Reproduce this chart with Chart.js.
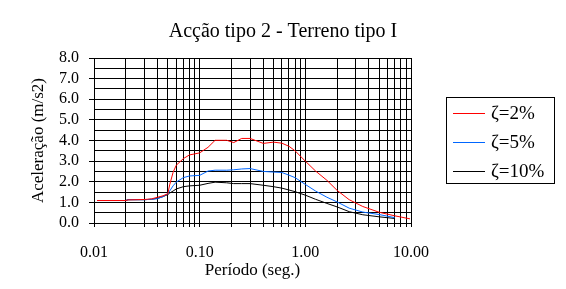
<!DOCTYPE html>
<html>
<head>
<meta charset="utf-8">
<script src="https://cdn.jsdelivr.net/npm/chart.js@4/dist/chart.umd.min.js"></script>
<style>
  html, body { margin: 0; padding: 0; background: #fff; }
  #wrap { width: 566px; height: 289px; }
</style>
</head>
<body>
<div id="wrap"><canvas id="myChart" width="566" height="289"></canvas></div>
<script>
// periodo (s)
var periods = [0.0107, 0.02, 0.021, 0.03, 0.035, 0.04, 0.045, 0.05, 0.052, 0.056, 0.06, 0.07, 0.08, 0.1, 0.12, 0.14, 0.18, 0.21, 0.25, 0.3, 0.4, 0.5, 0.6, 0.7, 0.8, 1.0, 1.25, 1.6, 2.0, 2.6, 3.5, 5.0, 7.0, 9.8];
var acc2 = [1.09, 1.09, 1.12, 1.14, 1.17, 1.25, 1.32, 1.42, 1.85, 2.45, 2.80, 3.12, 3.30, 3.40, 3.67, 4.01, 4.01, 3.90, 4.10, 4.10, 3.86, 3.92, 3.87, 3.72, 3.50, 3.00, 2.52, 2.07, 1.58, 1.13, 0.80, 0.52, 0.35, 0.20];
var acc5 = [1.09, 1.09, 1.13, 1.13, 1.15, 1.18, 1.28, 1.42, 1.55, 1.80, 1.98, 2.20, 2.28, 2.31, 2.52, 2.56, 2.56, 2.58, 2.62, 2.64, 2.50, 2.47, 2.45, 2.32, 2.20, 1.87, 1.55, 1.25, 1.02, 0.72, 0.53, 0.41, 0.26, null];
var acc10 = [1.09, 1.09, 1.13, 1.13, 1.15, 1.20, 1.28, 1.38, 1.45, 1.55, 1.65, 1.76, 1.80, 1.83, 1.92, 1.98, 1.95, 1.91, 1.91, 1.91, 1.83, 1.76, 1.69, 1.60, 1.52, 1.35, 1.15, 0.95, 0.78, 0.55, 0.40, 0.30, 0.22, null];
var seriesNames = ['\u03B6=2%', '\u03B6=5%', '\u03B6=10%'];
var seriesColors = ['#ff0000', '#0066ff', '#000000'];
var chartTitle = 'Acção tipo 2 - Terreno tipo I';
var xTickValues = [];
for (var e = -2; e <= 0; e++) {
	for (var s = 1; s <= 9; s++) xTickValues.push(s * Math.pow(10, e));
}
xTickValues.push(10);

var serif = "'Liberation Serif', 'Times New Roman', serif";

function toPoints(vals){
	return periods.map(function(p, i){ return {x: p, y: vals[i]}; });
}

// titulo centrado na figura e legenda numa caixa a direita
var extras = {
	id: 'extras',
	afterDraw: function(chart){
		var c = chart.ctx;
		c.save();
		c.fillStyle = '#000';
		c.font = '20px ' + serif;
		c.textAlign = 'center';
		c.textBaseline = 'middle';
		c.fillText(chartTitle, 283, 32);

		c.textAlign = 'left';
		c.strokeStyle = '#000';
		c.lineWidth = 1;
		c.strokeRect(446.5, 97.5, 108, 86);
		c.font = '19px ' + serif;
		for (var i = 0; i < seriesNames.length; i++) {
			var y = 113.5 + i * 29;
			c.strokeStyle = seriesColors[i];
			c.beginPath();
			c.moveTo(453, y);
			c.lineTo(485, y);
			c.stroke();
			c.fillText(seriesNames[i], 491, y + 1);
		}
		c.restore();
	}
};

var ctx = document.getElementById('myChart');
var myChart = new Chart(ctx, {
	type : 'line',
	data : {
		datasets : [
			{ label : seriesNames[0], data : toPoints(acc2), borderColor : seriesColors[0], borderWidth : 1, pointRadius : 0, tension : 0 },
			{ label : seriesNames[1], data : toPoints(acc5), borderColor : seriesColors[1], borderWidth : 1, pointRadius : 0, tension : 0 },
			{ label : seriesNames[2], data : toPoints(acc10), borderColor : seriesColors[2], borderWidth : 1, pointRadius : 0, tension : 0 }
		]
	},
	options : {
		responsive : false,
		animation : false,
		layout : { padding : { left : 0, right : 155, top : 58, bottom : 0 } },
		plugins : {
			legend : { display : false },
			tooltip : { enabled : false },
			title : { display : false }
		},
		scales : {
			x : {
				type : 'logarithmic',
				min : 0.01,
				max : 10,
				afterBuildTicks : function(scale){
					scale.ticks = xTickValues.map(function(v){ return {value : v}; });
				},
				afterFit : function(scale){ scale.height = 66; },
				grid : { color : '#000', lineWidth : 1, tickLength : 4, drawTicks : true, tickColor : '#000' },
				border : { color : '#000' },
				ticks : {
					autoSkip : false,
					maxRotation : 0,
					color : '#000',
					padding : 16,
					font : { family : serif, size : 16 },
					callback : function(v){
						var l = Math.log10(v);
						return Math.abs(l - Math.round(l)) < 1e-6 ? v.toFixed(2) : '';
					}
				},
				title : {
					display : true,
					text : 'Período (seg.)',
					color : '#000',
					font : { family : serif, size : 17 },
					padding : { top : 0, bottom : 8 }
				}
			},
			y : {
				min : 0,
				max : 8,
				afterFit : function(scale){ scale.width = 94; },
				grid : {
					color : '#000',
					lineWidth : 1,
					tickLength : 5,
					tickColor : function(c){ return (c.tick && c.tick.value % 1 === 0) ? '#000' : 'rgba(0,0,0,0)'; }
				},
				border : { color : '#000' },
				ticks : {
					stepSize : 0.5,
					autoSkip : false,
					maxTicksLimit : 40,
					color : '#000',
					padding : 10,
					font : { family : serif, size : 16 },
					callback : function(v){ return v % 1 === 0 ? v.toFixed(1) : ''; }
				},
				title : {
					display : true,
					text : 'Aceleração (m/s2)',
					color : '#000',
					font : { family : serif, size : 17 },
					padding : { top : 28, bottom : 2 }
				}
			}
		}
	},
	plugins : [extras]
});
</script>
</body>
</html>
